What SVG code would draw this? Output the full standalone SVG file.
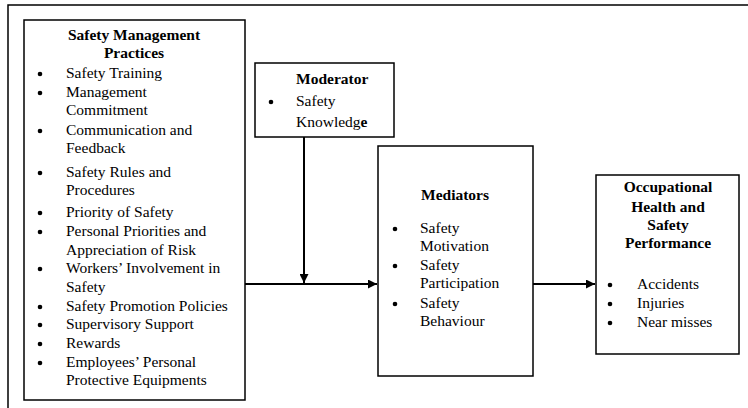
<svg xmlns="http://www.w3.org/2000/svg" width="748" height="408" viewBox="0 0 748 408">
<defs>
<style>
.box{fill:#fff;stroke:#000;stroke-width:1.5}
.t{font-family:"Liberation Serif","Times New Roman",serif;font-size:15.5px;fill:#000}
.b{font-weight:bold}
.c{text-anchor:middle}
.line{stroke:#000;stroke-width:2;fill:none}
</style>
<marker id="arr" viewBox="0 0 10 10" refX="10" refY="5" markerWidth="9" markerHeight="9" markerUnits="userSpaceOnUse" orient="auto">
<path d="M0,0 L10,5 L0,10 z" fill="#000"/>
</marker>
</defs>
<rect width="748" height="408" fill="#fff"/>
<path d="M8,408 L8,5 L748,5" fill="none" stroke="#000" stroke-width="1.5"/>

<g id="connectors">
<line class="line" x1="245" y1="284" x2="377" y2="284" marker-end="url(#arr)"/>
<line class="line" x1="304" y1="137" x2="304" y2="283" marker-end="url(#arr)"/>
<line class="line" x1="533" y1="284" x2="595" y2="284" marker-end="url(#arr)"/>
</g>

<g id="practices">
<rect class="box" x="24" y="20" width="221" height="380"/>
<text class="t b c" x="134" y="40">Safety Management</text>
<text class="t b c" x="134" y="58">Practices</text>
<g fill="#000">
<circle cx="40" cy="74" r="2.3"/><circle cx="40" cy="93" r="2.3"/><circle cx="40" cy="131" r="2.3"/>
<circle cx="40" cy="173" r="2.3"/><circle cx="40" cy="213" r="2.3"/><circle cx="40" cy="232" r="2.3"/>
<circle cx="40" cy="269" r="2.3"/><circle cx="40" cy="307" r="2.3"/><circle cx="40" cy="325" r="2.3"/>
<circle cx="40" cy="344" r="2.3"/><circle cx="40" cy="363" r="2.3"/>
</g>
<text class="t" x="66" y="78">Safety Training</text>
<text class="t" x="66" y="97">Management</text>
<text class="t" x="66" y="115">Commitment</text>
<text class="t" x="66" y="135">Communication and</text>
<text class="t" x="66" y="153">Feedback</text>
<text class="t" x="66" y="177">Safety Rules and</text>
<text class="t" x="66" y="195">Procedures</text>
<text class="t" x="66" y="217">Priority of Safety</text>
<text class="t" x="66" y="236">Personal Priorities and</text>
<text class="t" x="66" y="255">Appreciation of Risk</text>
<text class="t" x="66" y="273">Workers’ Involvement in</text>
<text class="t" x="66" y="292">Safety</text>
<text class="t" x="66" y="311">Safety Promotion Policies</text>
<text class="t" x="66" y="329">Supervisory Support</text>
<text class="t" x="66" y="348">Rewards</text>
<text class="t" x="66" y="367">Employees’ Personal</text>
<text class="t" x="66" y="385">Protective Equipments</text>
</g>

<g id="moderator">
<rect class="box" x="255" y="63" width="139" height="74"/>
<text class="t b" x="296" y="84">Moderator</text>
<circle cx="271" cy="102" r="2.3" fill="#000"/>
<text class="t" x="296" y="106">Safety</text>
<text class="t" x="296" y="127">Knowledg<tspan class="b">e</tspan></text>
</g>

<g id="mediators">
<rect class="box" x="378" y="146" width="155" height="230"/>
<text class="t b" x="421" y="200">Mediators</text>
<g fill="#000">
<circle cx="395" cy="229" r="2.3"/><circle cx="395" cy="266" r="2.3"/><circle cx="395" cy="304" r="2.3"/>
</g>
<text class="t" x="420" y="233">Safety</text>
<text class="t" x="420" y="251">Motivation</text>
<text class="t" x="420" y="270">Safety</text>
<text class="t" x="420" y="288">Participation</text>
<text class="t" x="420" y="308">Safety</text>
<text class="t" x="420" y="326">Behaviour</text>
</g>

<g id="performance">
<rect class="box" x="596" y="175" width="143" height="179"/>
<text class="t b c" x="668" y="192">Occupational</text>
<text class="t b c" x="668" y="212">Health and</text>
<text class="t b c" x="668" y="230">Safety</text>
<text class="t b c" x="668" y="248">Performance</text>
<g fill="#000">
<circle cx="610" cy="285" r="2.3"/><circle cx="610" cy="304" r="2.3"/><circle cx="610" cy="323" r="2.3"/>
</g>
<text class="t" x="637" y="289">Accidents</text>
<text class="t" x="637" y="308">Injuries</text>
<text class="t" x="637" y="327">Near misses</text>
</g>
</svg>
